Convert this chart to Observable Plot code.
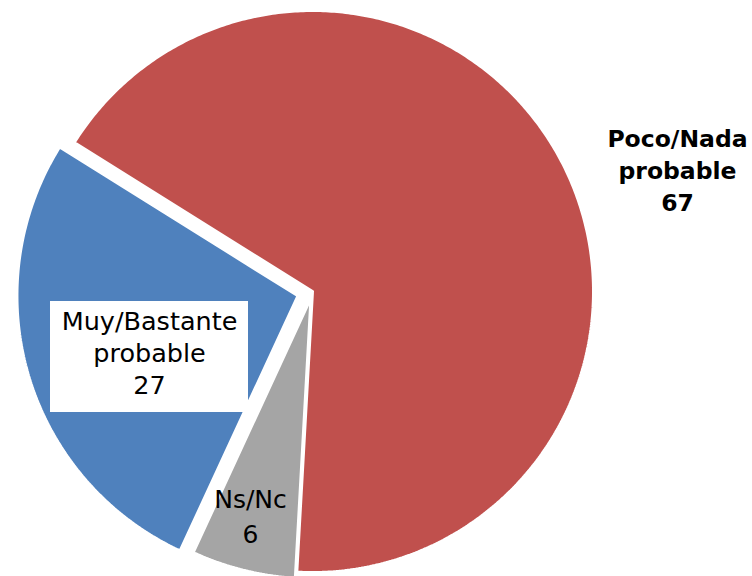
<!DOCTYPE html>
<html>
<head>
<meta charset="utf-8">
<script src="https://cdn.jsdelivr.net/npm/d3@7"></script>
<script src="https://cdn.jsdelivr.net/npm/@observablehq/plot@0.6"></script>
<style>
  html, body { margin: 0; padding: 0; background: #fff; }
  #chart { width: 752px; height: 576px; }
</style>
</head>
<body>
<div id="chart"></div>
<script>
// Data (clockwise order starting at the red slice)
const categories = ["Poco/Nada probable", "Ns/Nc", "Muy/Bastante probable"];
const values = [67, 6, 27];
const labelLines = [["Poco/Nada", "probable", "67"], ["Ns/Nc", "6"], ["Muy/Bastante", "probable", "27"]];
const colors = ["#C0504D", "#A5A5A5", "#4F81BD"];
const explode = [0, 0.022, 0.054];        // fraction of radius
const startDeg = 302;                      // first slice start, clockwise from 12 o'clock

const W = 752, H = 576, R = 281, CX = 312, CY = 291;
const toX = px => (px - CX) / R, toY = py => (CY - py) / R;

const pie = d3.pie().sort(null).value(d => d)
  .startAngle(startDeg * Math.PI / 180)
  .endAngle((startDeg + 360) * Math.PI / 180)(values);

// Wedge outlines in unit (radius = 1) data space
const wedges = pie.map((p, i) => {
  const mid = (p.startAngle + p.endAngle) / 2;
  const ox = explode[i] * Math.sin(mid), oy = explode[i] * Math.cos(mid);
  const pts = [{x: ox, y: oy}];
  const n = Math.max(8, Math.ceil((p.endAngle - p.startAngle) / 0.01));
  for (let k = 0; k <= n; k++) {
    const a = p.startAngle + (p.endAngle - p.startAngle) * k / n;
    pts.push({x: ox + Math.sin(a), y: oy + Math.cos(a)});
  }
  pts.push({x: ox, y: oy});
  return pts;
});

// Label layout (pixel centre, line gap, font size, weight)
const labelLayout = [
  {cx: 677, cy: 171, gap: 32, size: 23.5, weight: "bold"},
  {cx: 250, cy: 517, gap: 35, size: 25, weight: "normal"},
  {cx: 149, cy: 353, gap: 32, size: 25.5, weight: "normal"}
];

const labelData = [];
labelLines.forEach((lines, i) => {
  const L = labelLayout[i];
  lines.forEach((t, j) => {
    const py = L.cy + (j - (lines.length - 1) / 2) * L.gap;
    labelData.push({x: toX(L.cx), y: toY(py), text: t, slice: i});
  });
});

const boxData = [{x1: toX(50), x2: toX(248), y1: toY(301), y2: toY(412)}];

const marks = [];
wedges.forEach((w, i) => {
  marks.push(Plot.line(w, {x: "x", y: "y", fill: colors[i], stroke: "white", strokeWidth: 3, curve: "linear", strokeLinejoin: "miter"}));
});
marks.push(Plot.rect(boxData, {x1: "x1", x2: "x2", y1: "y1", y2: "y2", fill: "white"}));
labelLayout.forEach((L, i) => {
  marks.push(Plot.text(labelData.filter(d => d.slice === i), {
    x: "x", y: "y", text: "text", fontSize: L.size, fontWeight: L.weight,
    fill: "#000", fontFamily: "DejaVu Sans"
  }));
});

const chart = Plot.plot({
  width: W, height: H,
  margin: 0,
  x: {domain: [-CX / R, (W - CX) / R], range: [0, W], axis: null},
  y: {domain: [CY / R, -(H - CY) / R], range: [0, H], axis: null},
  style: {background: "white", fontFamily: "DejaVu Sans"},
  marks
});
document.getElementById("chart").appendChild(chart);
</script>
</body>
</html>
